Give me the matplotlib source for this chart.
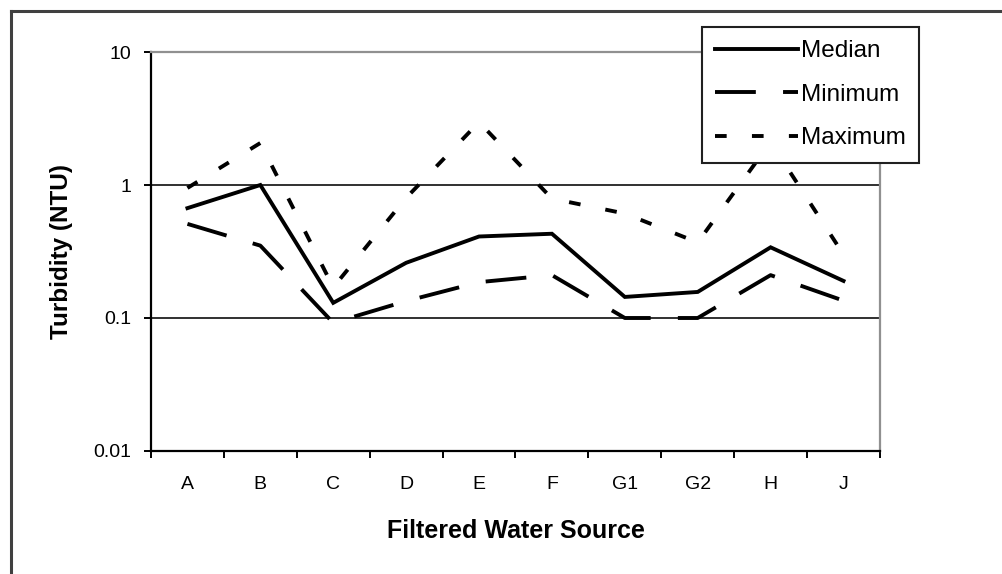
import numpy as np
import matplotlib
matplotlib.use("Agg")
import matplotlib.pyplot as plt
from matplotlib.lines import Line2D
from matplotlib.ticker import FixedLocator, NullFormatter, NullLocator

plt.rcParams["font.family"] = ["Liberation Sans", "DejaVu Sans"]

sources = ["A", "B", "C", "D", "E", "F", "G1", "G2", "H", "J"]
median = [0.67, 1.0, 0.13, 0.26, 0.41, 0.43, 0.144, 0.157, 0.34, 0.19]
minimum = [0.51, 0.35, 0.092, 0.134, 0.186, 0.21, 0.10, 0.10, 0.21, 0.135]
maximum = [0.95, 2.07, 0.17, 0.80, 2.97, 0.79, 0.61, 0.37, 2.1, 0.30]
y_ticks = [0.01, 0.1, 1, 10]
y_labels = ["0.01", "0.1", "1", "10"]

fig = plt.figure(figsize=(10.02, 5.74), dpi=100)
ax = fig.add_axes([0.1507, 0.2143, 0.7275, 0.6951])

x = np.arange(len(sources))
ax.plot(x, median, color="black", lw=2.8, solid_joinstyle="miter", label="Median")
ax.plot(x, minimum, color="black", lw=2.8, dashes=(10.5, 7), label="Minimum")
ax.plot(x, maximum, color="black", lw=2.8, dashes=(3, 6.5), label="Maximum")

ax.set_yscale("log")
ax.set_ylim(0.01, 10)
ax.set_xlim(-0.5, len(sources) - 0.5)

ax.yaxis.set_major_locator(FixedLocator(y_ticks))
ax.set_yticklabels(y_labels)
ax.yaxis.set_minor_locator(NullLocator())
ax.yaxis.grid(True, color="#303030", lw=1.4)

ax.set_xticks(x)
ax.set_xticklabels(sources)
ax.xaxis.set_minor_locator(FixedLocator(np.arange(len(sources) + 1) - 0.5))
ax.xaxis.set_minor_formatter(NullFormatter())
ax.tick_params(axis="x", which="major", length=0, pad=18, labelsize=14)
ax.tick_params(axis="x", which="minor", length=5, width=1.4, direction="out")
ax.tick_params(axis="y", which="major", length=5, width=1.4, direction="out",
               pad=9, labelsize=14)

for side in ("left", "bottom"):
    ax.spines[side].set_color("black")
    ax.spines[side].set_linewidth(1.6)
for side in ("top", "right"):
    ax.spines[side].set_color("#909090")
    ax.spines[side].set_linewidth(1.6)

ax.set_xlabel("Filtered Water Source", fontsize=18, fontweight="bold", labelpad=19)
ax.set_ylabel("Turbidity (NTU)", fontsize=17.5, fontweight="bold", labelpad=15)

leg = fig.legend(loc="upper left", bbox_to_anchor=(0.7006, 0.953), borderaxespad=0,
                 fontsize=17.5, handlelength=3.4, handletextpad=0.12,
                 labelspacing=0.88, borderpad=0.55, fancybox=False,
                 frameon=True, framealpha=1)
leg.get_frame().set_edgecolor("#202020")
leg.get_frame().set_linewidth(1.5)

# outer chart border (only top and left edges are visible)
fig.add_artist(Line2D([0.011, 0.011], [0.0, 0.981], color="#404040", lw=2.2,
                      transform=fig.transFigure))
fig.add_artist(Line2D([0.011, 1.0], [0.981, 0.981], color="#404040", lw=2.2,
                      transform=fig.transFigure))

fig.savefig("out.png", dpi=100)
